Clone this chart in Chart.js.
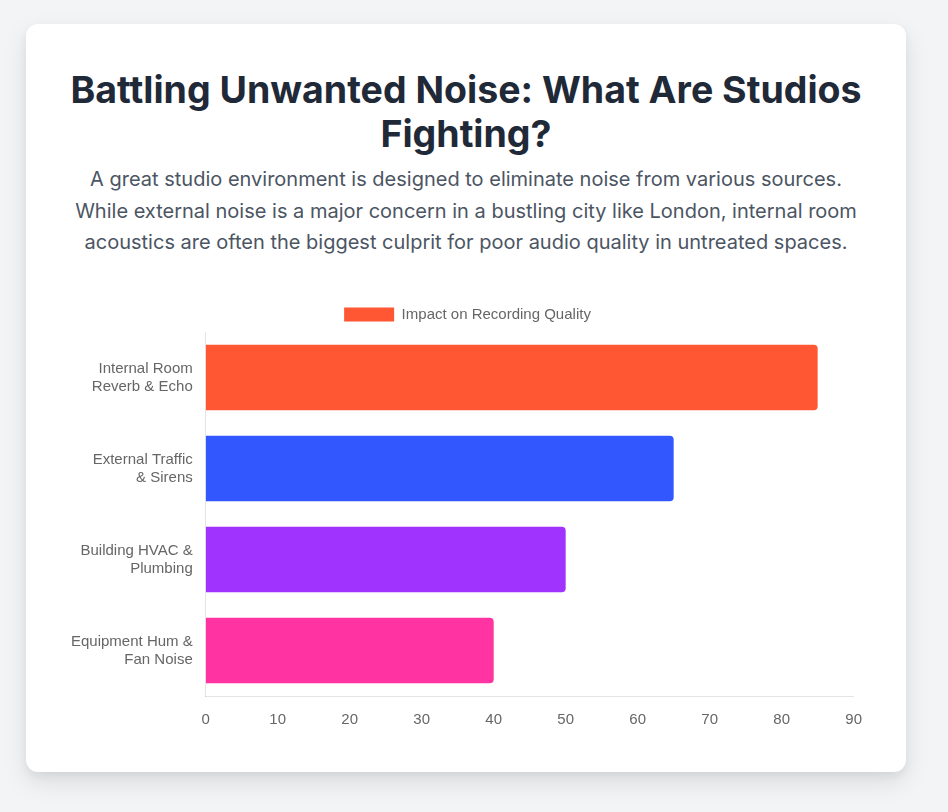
<!DOCTYPE html>
<html>
<head>
<meta charset="utf-8">
<script src="https://cdn.jsdelivr.net/npm/chart.js@4.4.0/dist/chart.umd.min.js"></script>
<style>
    body {
        margin: 0;
        background: #f3f4f6;
        font-family: Inter, "Noto Sans", sans-serif;
    }
    .card {
        position: absolute;
        left: 26px;
        top: 24px;
        width: 880px;
        height: 748px;
        background: #fff;
        border-radius: 12px;
        box-shadow: 0 10px 25px rgba(0, 0, 0, 0.1), 0 4px 8px rgba(0, 0, 0, 0.05);
        box-sizing: border-box;
        padding: 40px;
    }
    h2 {
        margin: 4px 0 0;
        text-align: center;
        font-size: 37.5px;
        line-height: 44px;
        font-weight: 700;
        color: #1f2937;
    }
    p {
        margin: 8px 0 0;
        text-align: center;
        font-size: 20px;
        line-height: 31.5px;
        color: #4b5563;
    }
    .chart-box {
        position: relative;
        height: 439px;
        margin-top: 38px;
        margin-right: -3px;
    }
</style>
</head>
<body>
<div class="card">
    <h2>Battling Unwanted Noise: What Are Studios Fighting?</h2>
    <p>A great studio environment is designed to eliminate noise from various sources. While external noise is a major concern in a bustling city like London, internal room acoustics are often the biggest culprit for poor audio quality in untreated spaces.</p>
    <div class="chart-box"><canvas id="noiseChart"></canvas></div>
</div>
<script>
// Noise sources (multi-line labels) and their impact scores
const noiseLabels = [
    ["Internal Room", "Reverb & Echo"],
    ["External Traffic", "& Sirens"],
    ["Building HVAC &", "Plumbing"],
    ["Equipment Hum &", "Fan Noise"],
];
const impactValues = [85, 65, 50, 40];
const barColors = ["#FF5733", "#3357FF", "#A133FF", "#FF33A1"];

Chart.defaults.font.family = "'Liberation Sans', Arial, sans-serif";
Chart.defaults.font.size = 15;

const ctx = document.getElementById("noiseChart");
new Chart(ctx, {
    type: "bar",
    data: {
        labels: noiseLabels,
        datasets: [
            {
                label: "Impact on Recording Quality",
                data: impactValues,
                backgroundColor: barColors,
                borderRadius: 4,
            },
        ],
    },
    options: {
        indexAxis: "y",
        responsive: true,
        maintainAspectRatio: false,
        animation: false,
        plugins: {
            legend: {
                labels: { boxWidth: 50, boxHeight: 14 },
            },
            tooltip: { enabled: false },
        },
        scales: {
            x: {
                beginAtZero: true,
                max: 90,
                grid: { display: false },
                ticks: { padding: 7 },
            },
            y: {
                grid: { display: false },
                ticks: { padding: 5 },
            },
        },
    },
});
</script>
</body>
</html>
